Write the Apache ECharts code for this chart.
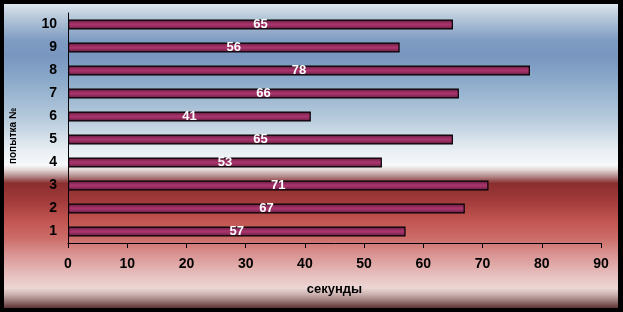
<!DOCTYPE html>
<html><head><meta charset="utf-8">
<script src="https://cdn.jsdelivr.net/npm/echarts@6/dist/echarts.min.js"></script>
<style>html,body{margin:0;padding:0;background:#000}#c{width:623px;height:312px;background:#000}</style>
</head><body><div id="c"></div>
<script>
var categories = ['1','2','3','4','5','6','7','8','9','10'];
var values = [57, 67, 71, 53, 65, 41, 66, 78, 56, 65];
var xTicks = {min: 0, max: 90, interval: 10};
var FONT = '"Liberation Sans Narrow", "Liberation Sans", Arial, sans-serif';
var chart = echarts.init(document.getElementById('c'), null, {renderer: 'canvas'});
chart.setOption({
  animation: false,
  graphic: [{
    type: 'rect', z: -10, silent: true,
    shape: {x: 4, y: 4, width: 614, height: 304},
    style: {
      fill: new echarts.graphic.LinearGradient(0, 0, 0, 1, [
        {offset: 0.00, color: '#dde7ef'},
        {offset: 0.04, color: '#b9cadb'},
        {offset: 0.12, color: '#7f9cc2'},
        {offset: 0.17, color: '#7896c0'},
        {offset: 0.26, color: '#8eaccb'},
        {offset: 0.38, color: '#b7cbdc'},
        {offset: 0.48, color: '#e8eef3'},
        {offset: 0.53, color: '#f7f9fb'},
        {offset: 0.545, color: '#e6d8d8'},
        {offset: 0.565, color: '#b89292'},
        {offset: 0.58, color: '#9a5555'},
        {offset: 0.59, color: '#8b2e2e'},
        {offset: 0.65, color: '#a33c3c'},
        {offset: 0.71, color: '#c05450'},
        {offset: 0.77, color: '#cc6c68'},
        {offset: 0.82, color: '#d89190'},
        {offset: 0.88, color: '#e4b8b6'},
        {offset: 0.935, color: '#ecd7d5'},
        {offset: 0.955, color: '#ccb2b0'},
        {offset: 0.975, color: '#9e7e7e'},
        {offset: 1.00, color: '#5e3232'}
      ])
    }
  }],
  grid: {left: 66, right: 22, top: 13, bottom: 69},
  xAxis: {
    type: 'value', min: xTicks.min, max: xTicks.max, interval: xTicks.interval,
    name: 'секунды', nameLocation: 'middle', nameGap: 40,
    nameTextStyle: {color: '#000', fontWeight: 'bold', fontSize: 13, fontFamily: 'Liberation Sans, Arial, sans-serif'},
    axisLine: {show: true, lineStyle: {color: '#000', width: 1}},
    axisTick: {show: true, length: 5, lineStyle: {color: '#000'}},
    axisLabel: {color: '#000', fontWeight: 'bold', fontSize: 14, fontFamily: FONT, margin: 14},
    splitLine: {show: false}
  },
  yAxis: {
    type: 'category', data: categories,
    name: 'попытка №', nameLocation: 'middle', nameGap: 50, nameRotate: 90,
    nameTextStyle: {color: '#000', fontWeight: 'bold', fontSize: 10, fontFamily: FONT, padding: [0, 16, 0, 0]},
    axisLine: {show: true, lineStyle: {color: '#000', width: 1}},
    axisTick: {show: false},
    axisLabel: {color: '#000', fontWeight: 'bold', fontSize: 14, fontFamily: FONT, margin: 11}
  },
  series: [{
    type: 'bar', data: values, barWidth: 10,
    itemStyle: {
      borderColor: '#000', borderWidth: 1.2,
      color: new echarts.graphic.LinearGradient(0, 0, 0, 1, [
        {offset: 0, color: '#5e1a3c'},
        {offset: 0.45, color: '#a8346c'},
        {offset: 0.55, color: '#a8346c'},
        {offset: 1, color: '#5e1a3c'}
      ])
    },
    label: {show: true, position: 'inside', color: '#fff', fontWeight: 'bold', fontSize: 13, fontFamily: FONT}
  }]
});
</script></body></html>
